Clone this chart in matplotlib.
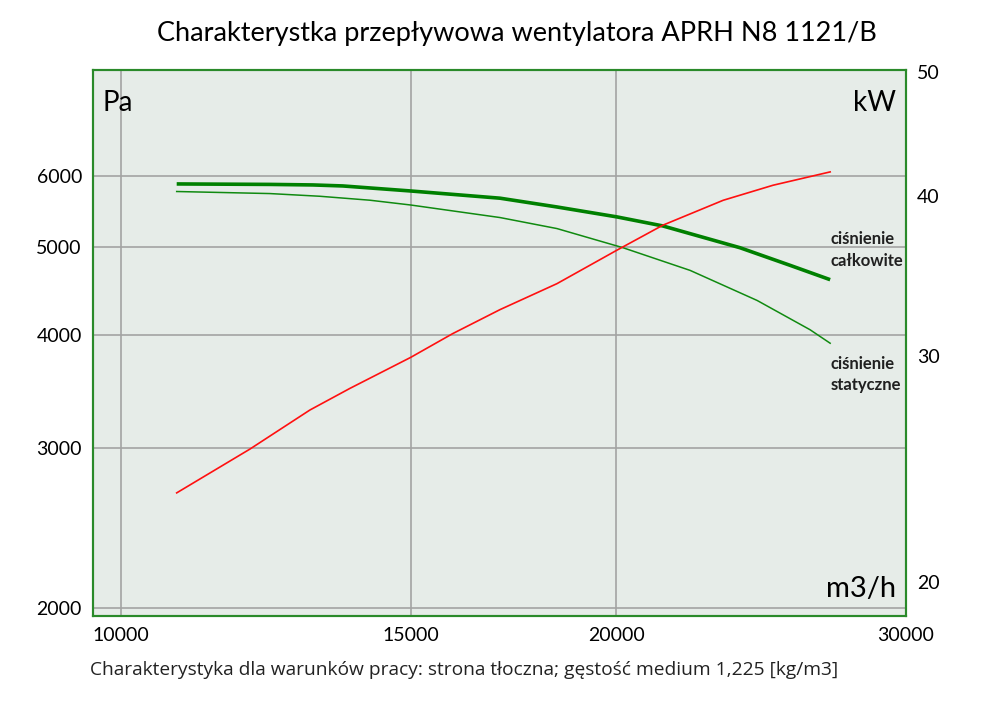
import matplotlib.pyplot as plt
from matplotlib.ticker import FixedLocator, NullLocator, FixedFormatter

plt.rcParams['font.family'] = ['Lato', 'DejaVu Sans']

# flow [m3/h] for the total pressure curve
flow_t = [10815, 12320, 13085, 13645, 15000, 17000, 18410, 20020, 21350, 23780, 25510, 26980]
# total pressure [Pa]
total_p = [5876, 5869, 5861, 5846, 5772, 5667, 5542, 5404, 5281, 4997, 4778, 4607]

# flow [m3/h] for the static pressure curve
flow_s = [10815, 12320, 13210, 14170, 15000, 17000, 18410, 20190, 22180, 24360, 26230, 26980]
# static pressure [Pa]
static_p = [5764, 5734, 5695, 5638, 5570, 5395, 5246, 4997, 4717, 4370, 4057, 3920]

# flow [m3/h] for the power curve
flow_n = [10815, 11980, 13030, 13780, 15000, 15910, 17000, 18410, 20020, 21350, 23230, 24910, 26980]
# power [kW]
power = [23.46, 25.38, 27.23, 28.31, 29.93, 31.24, 32.62, 34.18, 36.30, 37.97, 39.71, 40.80, 41.79]

x_ticks = [10000, 15000, 20000, 30000]
y_ticks = [2000, 3000, 4000, 5000, 6000]
y2_ticks = [20, 30, 40, 50]

frame = '#2a8a2a'
bg = '#e6ece8'
grid = '#a3a3a3'

fig = plt.figure(figsize=(10, 7.06), dpi=100)
ax = fig.add_axes([0.093, 0.1275, 0.813, 0.7734])
ax2 = ax.twinx()

ax.set_facecolor(bg)
ax.set_xscale('log')
ax.set_yscale('log')
ax2.set_yscale('log')
ax.set_xlim(9620, 30000)
ax.set_ylim(1960, 7850)
ax2.set_ylim(18.8, 50.2)

ax.xaxis.set_major_locator(FixedLocator(x_ticks))
ax.xaxis.set_major_formatter(FixedFormatter([str(v) for v in x_ticks]))
ax.xaxis.set_minor_locator(NullLocator())
ax.yaxis.set_major_locator(FixedLocator(y_ticks))
ax.yaxis.set_major_formatter(FixedFormatter([str(v) for v in y_ticks]))
ax.yaxis.set_minor_locator(NullLocator())
ax2.yaxis.set_major_locator(FixedLocator(y2_ticks))
ax2.yaxis.set_major_formatter(FixedFormatter([str(v) for v in y2_ticks]))
ax2.yaxis.set_minor_locator(NullLocator())

ax.grid(True, color=grid, lw=1.2)
ax.set_axisbelow(True)
ax.tick_params(length=0, labelsize=14, pad=8)
ax2.tick_params(length=0, labelsize=14, pad=8)

for a in (ax, ax2):
    for s in a.spines.values():
        s.set_color(frame)
        s.set_linewidth(1.5)

ax.plot(flow_t, total_p, color='#008000', lw=2.6, solid_capstyle='butt')
ax.plot(flow_s, static_p, color='#108a10', lw=1.1)
ax2.plot(flow_n, power, color='#ff1010', lw=1.2)

ax.text(0.012, 0.94, 'Pa', transform=ax.transAxes, fontsize=20, va='center', ha='left')
ax.text(0.988, 0.94, 'kW', transform=ax.transAxes, fontsize=20, va='center', ha='right')
ax.text(0.988, 0.05, 'm3/h', transform=ax.transAxes, fontsize=21, va='center', ha='right')

ax.text(26980, 4964, 'ciśnienie\ncałkowite', fontsize=12, va='center', ha='left',
        linespacing=1.45, fontweight='bold', color='#202020')
ax.text(26980, 3621, 'ciśnienie\nstatyczne', fontsize=12, va='center', ha='left',
        linespacing=1.45, fontweight='bold', color='#202020')

fig.text(0.517, 0.953, 'Charakterystka przepływowa wentylatora APRH N8 1121/B',
         fontsize=19.5, ha='center', va='center')
fig.text(0.09, 0.051, 'Charakterystyka dla warunków pracy: strona tłoczna; gęstość medium 1,225 [kg/m3]',
         fontsize=13.8, ha='left', va='center', color='#222222',
         family=['Open Sans', 'DejaVu Sans'])

fig.savefig('out.png', dpi=100)
